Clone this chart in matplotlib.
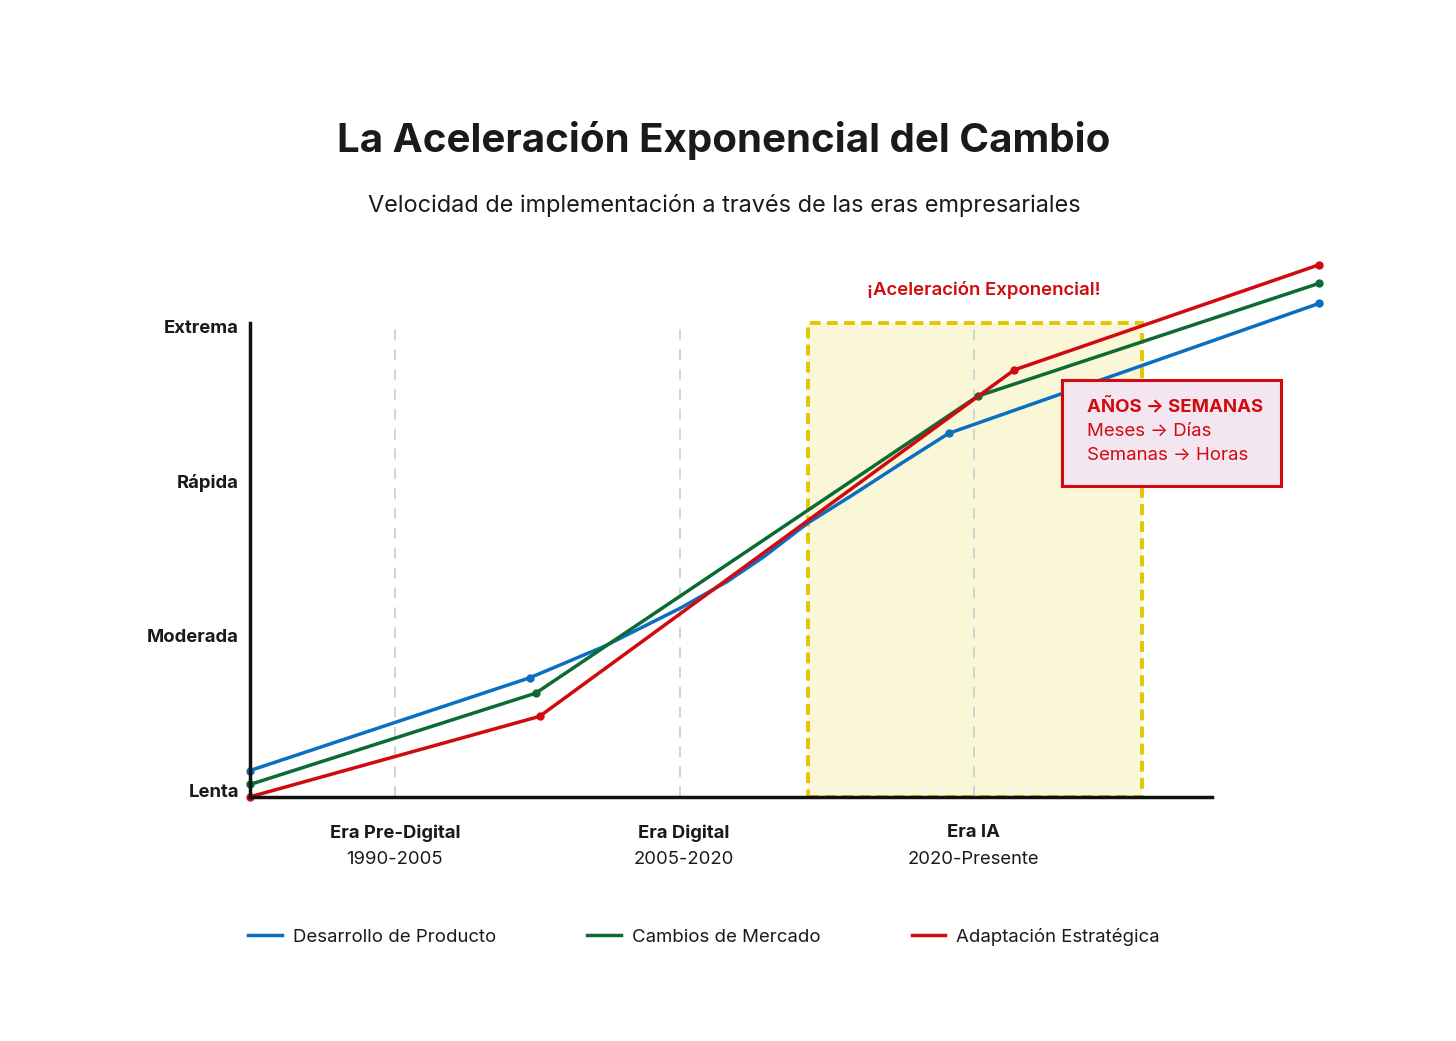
import matplotlib
matplotlib.use("Agg")
import matplotlib.pyplot as plt
from matplotlib.patches import Rectangle
from matplotlib.lines import Line2D

plt.rcParams['font.family'] = ['Inter', 'DejaVu Sans']

# data (x in years, y on a 1..4 speed scale)
speed_labels = ['Lenta', 'Moderada', 'Rápida', 'Extrema']
speed_levels = [1, 2, 3, 4]

era_names = ['Era Pre-Digital', 'Era Digital', 'Era IA']
era_years = ['1990-2005', '2005-2020', '2020-Presente']
era_pos = [1997.5, 2012.3, 2027.5]
era_label_pos = [1997.5, 2012.45, 2027.5]

prod_x = [1990.0, 2004.5, 2008.3, 2012.3, 2014.7, 2016.6, 2018.9, 2021.2, 2023.8, 2026.2, 2045.4]
prod_y = [1.13, 1.73, 1.93, 2.18, 2.35, 2.51, 2.73, 2.91, 3.12, 3.31, 4.15]
prod_marks = [0, 1, 9, 10]

mkt_x = [1990.0, 2004.8, 2027.7, 2045.4]
mkt_y = [1.04, 1.63, 3.55, 4.28]

strat_x = [1990.0, 2005.0, 2029.6, 2045.4]
strat_y = [0.96, 1.48, 3.72, 4.40]

series_names = ['Desarrollo de Producto', 'Cambios de Mercado', 'Adaptación Estratégica']

ai_zone = (2018.9, 2036.2)

BLUE = '#0a6fc2'
GREEN = '#0b6b33'
RED = '#d10a10'
INK = '#1a1a1a'

fig = plt.figure(figsize=(14.56, 10.41), dpi=100)
ax = fig.add_axes([250/1456, 1-797/1041, 962/1456, 474/1041])
ax.set_xlim(1990, 2039.84)
ax.set_ylim(0.959, 4.023)

# AI era highlight
ax.add_patch(Rectangle((ai_zone[0], 0.959), ai_zone[1]-ai_zone[0], 4.023-0.959,
                       facecolor='#faf6d8', edgecolor='#e3c500', lw=2.8,
                       ls=(0, (2.8, 1.6)), zorder=1, clip_on=False))

for p in era_pos:
    ax.axvline(p, color='#d0d0d0', lw=1.3, ls=(0, (6, 5)), zorder=2)

ax.plot(prod_x, prod_y, color=BLUE, lw=2.5, marker='o', ms=5, markevery=prod_marks,
        clip_on=False, zorder=4)
ax.plot(mkt_x, mkt_y, color=GREEN, lw=2.5, marker='o', ms=5,
        clip_on=False, zorder=4)
ax.plot(strat_x, strat_y, color=RED, lw=2.5, marker='o', ms=5,
        clip_on=False, zorder=5)

for s in ['top', 'right']:
    ax.spines[s].set_visible(False)
for s in ['left', 'bottom']:
    ax.spines[s].set_linewidth(2.5)
    ax.spines[s].set_color('#111111')
    ax.spines[s].set_zorder(6)

ax.set_xticks([])
ax.set_yticks(speed_levels)
ax.set_yticklabels(speed_labels, fontsize=13.3, fontweight='bold', color=INK)
ax.tick_params(axis='y', length=0, pad=8)

for name, yrs, p in zip(era_names, era_years, era_label_pos):
    ax.text(p, 0.959 - 36/154.7, name, ha='center', va='center', fontsize=13.3,
            fontweight='bold', color=INK)
    ax.text(p, 0.959 - 62.5/154.7, yrs, ha='center', va='center', fontsize=13.3,
            color=INK)

ax.text(2028.0, 4.236, '¡Aceleración Exponencial!', ha='center', va='center',
        fontsize=13.4, fontweight='semibold', color=RED, clip_on=False)

# callout box
ax.add_patch(Rectangle((2032.07, 1 + (790.6-486)/154.7), 219/19.3, 106/154.7,
                       facecolor='#f4e6f0', edgecolor=RED, lw=2.2, zorder=7, clip_on=False))
box_lines = [('AÑOS → SEMANAS', 'bold', 407), ('Meses → Días', 'normal', 431),
             ('Semanas → Horas', 'normal', 455)]
for txt, w, py in box_lines:
    ax.text(2033.37, 1 + (790.6-py)/154.7, txt, ha='left', va='center', fontsize=13.4,
            fontweight=w, color=RED, zorder=8)

fig.text(0.4973, 1-140/1041, 'La Aceleración Exponencial del Cambio', ha='center',
         va='center', fontsize=29, fontweight='bold', color=INK)
fig.text(0.4973, 1-205.5/1041, 'Velocidad de implementación a través de las eras empresariales',
         ha='center', va='center', fontsize=16.9, color=INK)

handles = [Line2D([], [], color=c, lw=2.5) for c in (BLUE, GREEN, RED)]
fig.legend(handles, series_names, loc='center left', bbox_to_anchor=(248/1456, 1-937/1041),
           ncol=3, frameon=False, fontsize=13.4, handlelength=1.8, handletextpad=0.6,
           columnspacing=4.9, borderpad=0, borderaxespad=0, labelcolor=INK)

fig.savefig('out.png', dpi=100, facecolor='white')
